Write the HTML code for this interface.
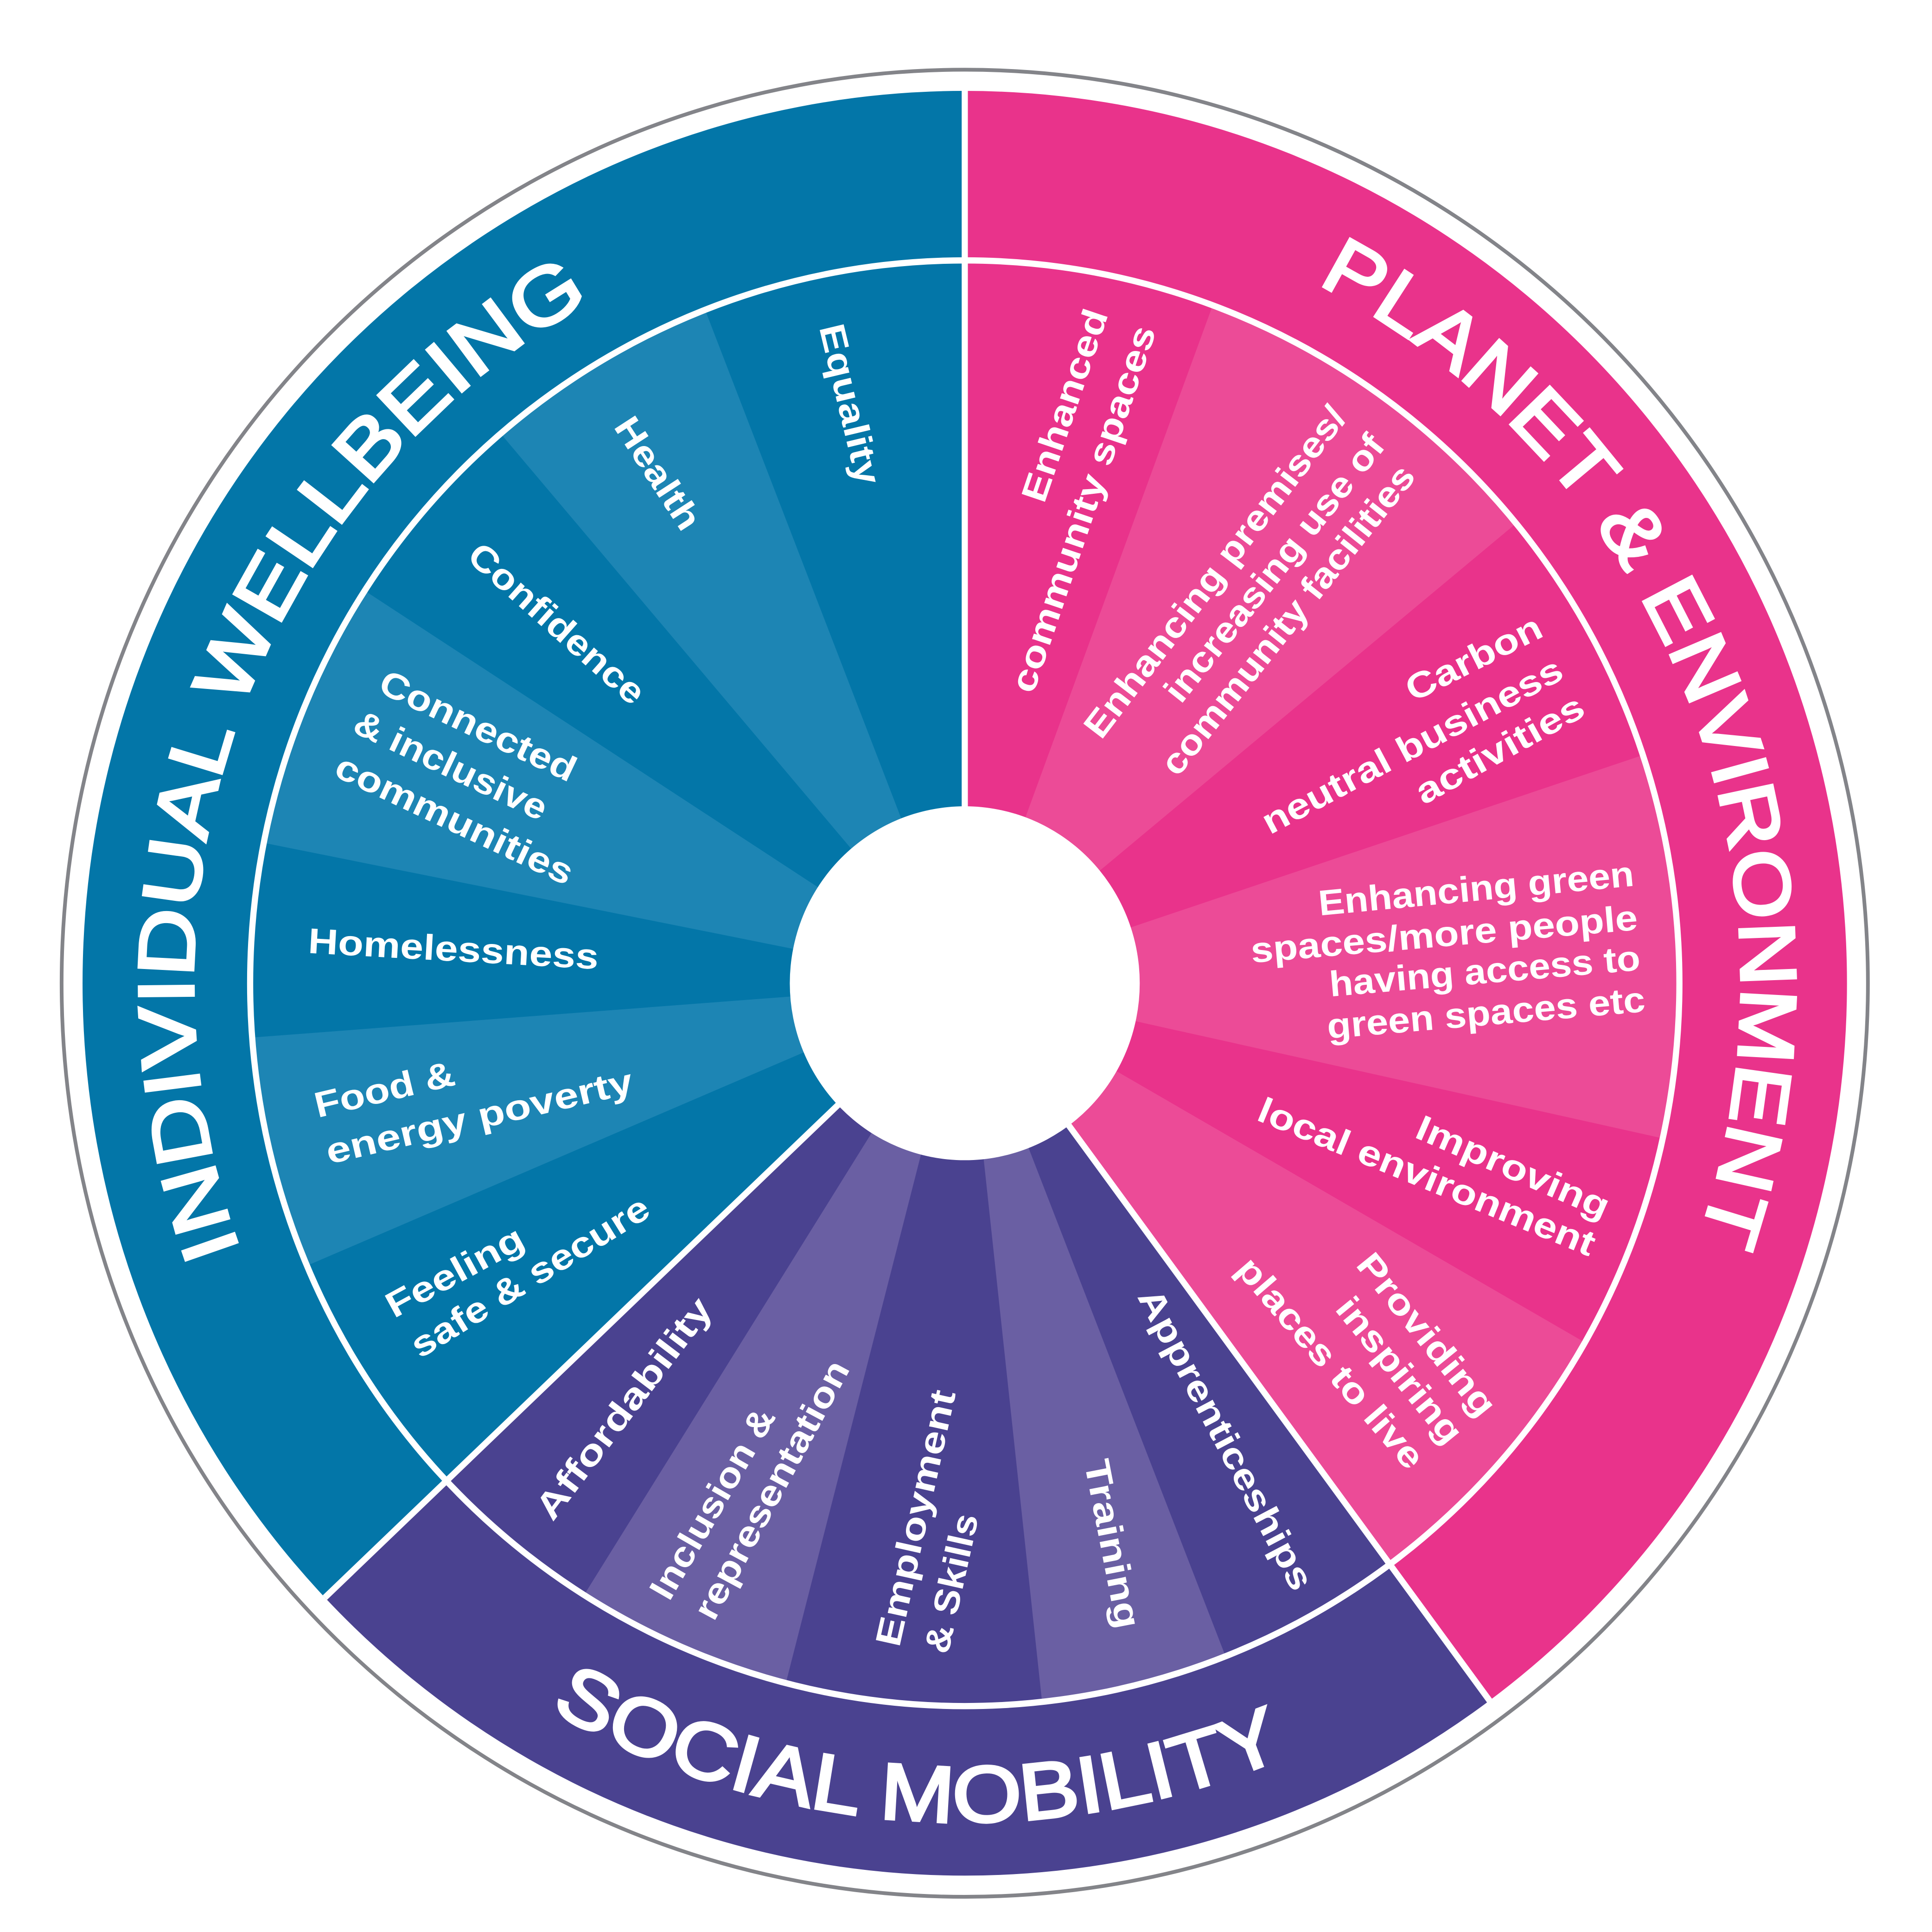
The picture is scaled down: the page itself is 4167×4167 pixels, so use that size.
<!DOCTYPE html>
<html><head><meta charset="utf-8"><style>
html,body{margin:0;padding:0;background:#fff}
svg{display:block}
.l{font-family:"Liberation Sans",sans-serif;font-weight:bold;font-size:29px;fill:#fff}
.b{font-family:"Liberation Sans",sans-serif;font-weight:normal;font-size:64px;fill:#fff;stroke:#fff;stroke-width:2.2px}
</style></head><body>
<svg width="4167" height="4167" viewBox="0 0 1568 1568" xmlns="http://www.w3.org/2000/svg">
<rect width="1568" height="1568" fill="#fff"/>
<g transform="translate(783,798) scale(1,1.0115)">
  <circle r="733" fill="none" stroke="#838489" stroke-width="3"/>
  <circle r="358" fill="none" stroke="#0376a8" stroke-width="716" pathLength="360" stroke-dasharray="133.5 400" transform="rotate(136.5)"/>
  <circle r="358" fill="none" stroke="#e9338b" stroke-width="716" pathLength="360" stroke-dasharray="143.5 400" transform="rotate(-90)"/>
  <circle r="358" fill="none" stroke="#4a4290" stroke-width="716" pathLength="360" stroke-dasharray="83 400" transform="rotate(53.5)"/>
  <g fill="none" stroke-width="580">
    <circle r="290" stroke="#1d85b4" pathLength="360" stroke-dasharray="19.2 400" transform="rotate(229.5)"/>
    <circle r="290" stroke="#1d85b4" pathLength="360" stroke-dasharray="21.7 400" transform="rotate(191.2)"/>
    <circle r="290" stroke="#1d85b4" pathLength="360" stroke-dasharray="18.7 400" transform="rotate(157)"/>
    <circle r="290" stroke="#6a5fa3" pathLength="360" stroke-dasharray="17.7 400" transform="rotate(104.5)"/>
    <circle r="290" stroke="#6a5fa3" pathLength="360" stroke-dasharray="15.2 400" transform="rotate(68.6)"/>
    <circle r="290" stroke="#ec4b97" pathLength="360" stroke-dasharray="23.7 400" transform="rotate(29.8)"/>
    <circle r="290" stroke="#ec4b97" pathLength="360" stroke-dasharray="30.8 400" transform="rotate(-18.4)"/>
    <circle r="290" stroke="#ec4b97" pathLength="360" stroke-dasharray="30.2 400" transform="rotate(-69.7)"/>
  </g>
  <circle r="580" fill="none" stroke="#fff" stroke-width="5"/>
  <g stroke="#fff" stroke-width="5">
    <line x1="0" y1="0" x2="0" y2="-720"/>
    <line x1="0" y1="0" x2="-519.3" y2="492.9"/>
    <line x1="0" y1="0" x2="425.9" y2="575.6"/>
  </g>
  <circle r="142" fill="#fff"/>
  <defs>
    <path id="pIW" d="M -588.3 214.1 A 626 626 0 0 1 -303.5 -547.5"/>
    <path id="pPE" d="M 286.0 -561.3 A 630 630 0 0 1 595.7 205.1"/>
    <path id="pSM" d="M -336.5 582.8 A 673 673 0 0 0 262.9 619.5"/>
  </defs>
  <text class="b"><textPath href="#pIW" textLength="885" lengthAdjust="spacingAndGlyphs">INDIVIDUAL WELLBEING</textPath></text>
  <text class="b"><textPath href="#pPE" textLength="900" lengthAdjust="spacingAndGlyphs">PLANET &amp; ENVIRONMENT</textPath></text>
  <text class="b"><textPath href="#pSM" textLength="620" lengthAdjust="spacingAndGlyphs">SOCIAL MOBILITY</textPath></text>
</g>
<g class="l" text-anchor="middle">
  <text x="690" y="328" dy="10" transform="rotate(76.5 690 328)" textLength="133" lengthAdjust="spacingAndGlyphs">Equality</text>
  <text x="534" y="384" dy="10" transform="rotate(57 534 384)" textLength="103" lengthAdjust="spacingAndGlyphs">Health</text>
  <text x="452" y="506" dy="10" transform="rotate(41.6 452 506)" textLength="181" lengthAdjust="spacingAndGlyphs">Confidence</text>
  <text x="388" y="589" dy="10" transform="rotate(25.4 388 589)" textLength="173" lengthAdjust="spacingAndGlyphs">Connected</text>
  <text x="366" y="621" dy="10" transform="rotate(25.4 366 621)" textLength="170" lengthAdjust="spacingAndGlyphs">&amp; inclusive</text>
  <text x="369" y="665" dy="10" transform="rotate(25.3 369 665)" textLength="210" lengthAdjust="spacingAndGlyphs">communities</text>
  <text x="368" y="770" dy="10" transform="rotate(3.2 368 770)" textLength="236" lengthAdjust="spacingAndGlyphs">Homelessness</text>
  <text x="312" y="884" dy="10" transform="rotate(-13.4 312 884)" textLength="116" lengthAdjust="spacingAndGlyphs">Food &amp;</text>
  <text x="389" y="906" dy="10" transform="rotate(-13.2 389 906)" textLength="255" lengthAdjust="spacingAndGlyphs">energy poverty</text>
  <text x="369" y="1032" dy="10" transform="rotate(-28.6 369 1032)" textLength="123" lengthAdjust="spacingAndGlyphs">Feeling</text>
  <text x="430" y="1036" dy="10" transform="rotate(-31.8 430 1036)" textLength="222" lengthAdjust="spacingAndGlyphs">safe &amp; secure</text>
  <text x="506" y="1143" dy="10" transform="rotate(-52.9 506 1143)" textLength="217" lengthAdjust="spacingAndGlyphs">Affordability</text>
  <text x="578" y="1220" dy="10" transform="rotate(-60 578 1220)" textLength="174" lengthAdjust="spacingAndGlyphs">Inclusion &amp;</text>
  <text x="626" y="1209" dy="10" transform="rotate(-61.7 626 1209)" textLength="234" lengthAdjust="spacingAndGlyphs">representation</text>
  <text x="743" y="1232" dy="10" transform="rotate(-77.5 743 1232)" textLength="212" lengthAdjust="spacingAndGlyphs">Employment</text>
  <text x="772" y="1285" dy="10" transform="rotate(-77.5 772 1285)" textLength="115" lengthAdjust="spacingAndGlyphs">&amp; Skills</text>
  <text x="903" y="1253" dy="10" transform="rotate(79 903 1253)" textLength="139" lengthAdjust="spacingAndGlyphs">Training</text>
  <text x="995" y="1168" dy="10" transform="rotate(62.2 995 1168)" textLength="272" lengthAdjust="spacingAndGlyphs">Apprenticeships</text>
  <text x="864" y="329" dy="10" transform="rotate(-71.3 864 329)" textLength="163" lengthAdjust="spacingAndGlyphs">Enhanced</text>
  <text x="879" y="413" dy="10" transform="rotate(-71.3 879 413)" textLength="312" lengthAdjust="spacingAndGlyphs">community spaces</text>
  <text x="986" y="464" dy="10" transform="rotate(-52.6 986 464)" textLength="330" lengthAdjust="spacingAndGlyphs">Enhancing premises/</text>
  <text x="1034" y="461" dy="10" transform="rotate(-51.5 1034 461)" textLength="268" lengthAdjust="spacingAndGlyphs">increasing use of</text>
  <text x="1045" y="503" dy="10" transform="rotate(-51.5 1045 503)" textLength="312" lengthAdjust="spacingAndGlyphs">community facilities</text>
  <text x="1196" y="534" dy="10" transform="rotate(-26.8 1196 534)" textLength="120" lengthAdjust="spacingAndGlyphs">Carbon</text>
  <text x="1146" y="605" dy="10" transform="rotate(-28 1146 605)" textLength="272" lengthAdjust="spacingAndGlyphs">neutral business</text>
  <text x="1217" y="608" dy="10" transform="rotate(-29 1217 608)" textLength="152" lengthAdjust="spacingAndGlyphs">activities</text>
  <text x="1198" y="721" dy="10" transform="rotate(-5.4 1198 721)" textLength="257" lengthAdjust="spacingAndGlyphs">Enhancing green</text>
  <text x="1172" y="758" dy="10" transform="rotate(-4.9 1172 758)" textLength="315" lengthAdjust="spacingAndGlyphs">spaces/more people</text>
  <text x="1205" y="788" dy="10" transform="rotate(-4.9 1205 788)" textLength="253" lengthAdjust="spacingAndGlyphs">having access to</text>
  <text x="1206" y="822" dy="10" transform="rotate(-4.9 1206 822)" textLength="259" lengthAdjust="spacingAndGlyphs">green spaces etc</text>
  <text x="1228" y="947" dy="10" transform="rotate(23.5 1228 947)" textLength="168" lengthAdjust="spacingAndGlyphs">Improving</text>
  <text x="1158" y="955" dy="10" transform="rotate(22.3 1158 955)" textLength="293" lengthAdjust="spacingAndGlyphs">local environment</text>
  <text x="1158" y="1083" dy="10" transform="rotate(51 1158 1083)" textLength="161" lengthAdjust="spacingAndGlyphs">Providing</text>
  <text x="1136" y="1112" dy="10" transform="rotate(50.7 1136 1112)" textLength="144" lengthAdjust="spacingAndGlyphs">inspiring</text>
  <text x="1080" y="1106" dy="10" transform="rotate(49.3 1080 1106)" textLength="216" lengthAdjust="spacingAndGlyphs">places to live</text>
</g>
</svg>
</body></html>
